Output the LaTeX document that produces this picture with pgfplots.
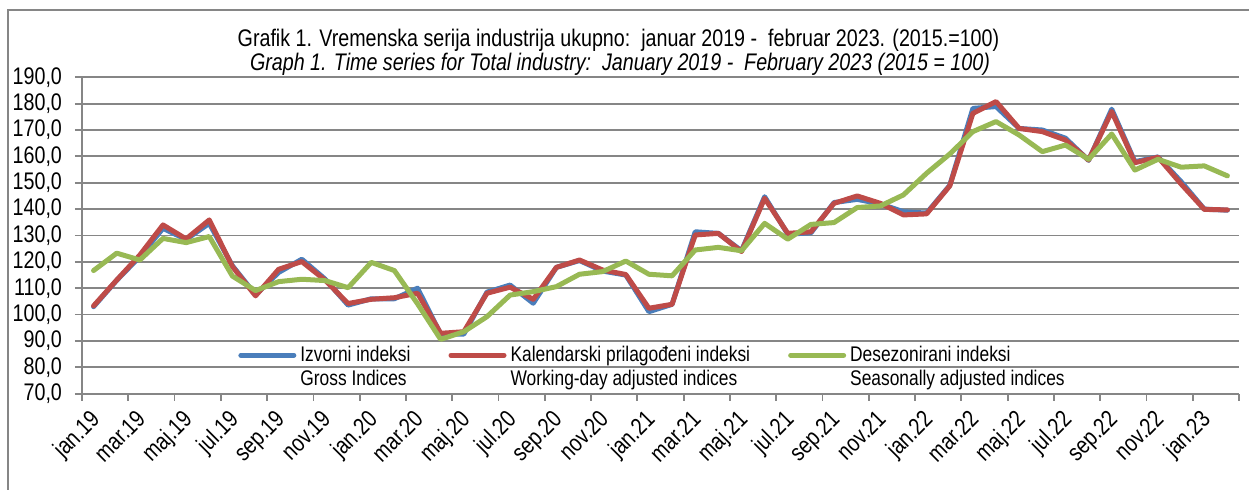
\documentclass[border=0pt]{standalone}
\usepackage{fontspec}
\setmainfont{Liberation Sans}[FakeStretch=0.82]
\usepackage{pgfplots}
\usepackage{pgfplotstable}
\pgfplotsset{compat=1.18}
\definecolor{sblue}{RGB}{74,126,187}
\definecolor{sred}{RGB}{190,75,72}
\definecolor{sgreen}{RGB}{152,185,84}
\definecolor{gridc}{RGB}{134,134,134}

\pgfplotstableread{
i gross wda sa
0 103.0 103.3 116.7
1 113.0 113.1 123.3
2 122.0 122.6 120.7
3 132.7 134.0 128.9
4 128.5 128.7 127.3
5 134.6 135.9 129.6
6 118.5 118.2 114.6
7 107.5 107.1 109.1
8 116.0 117.2 112.5
9 121.0 120.1 113.4
10 113.5 113.1 112.9
11 103.6 104.2 110.2
12 106.0 105.8 119.8
13 106.0 106.4 116.7
14 110.0 108.1 104.1
15 92.6 92.9 90.6
16 92.6 93.5 93.5
17 108.5 108.1 99.2
18 111.2 110.4 107.4
19 104.3 105.8 108.7
20 117.9 117.9 110.6
21 120.5 120.7 115.3
22 116.5 116.9 116.3
23 115.0 115.2 120.3
24 101.1 102.4 115.3
25 103.9 103.9 114.7
26 131.4 130.2 124.5
27 130.8 130.8 125.5
28 124.2 123.9 124.2
29 144.7 144.1 134.6
30 130.5 130.8 128.6
31 131.0 131.4 134.2
32 142.5 142.2 134.9
33 143.7 145.0 140.6
34 142.0 142.2 141.2
35 139.0 137.8 145.4
36 138.5 138.2 153.6
37 149.0 148.8 160.9
38 178.2 176.3 169.4
39 178.9 180.8 173.2
40 170.6 170.6 168.1
41 170.0 169.4 161.8
42 166.9 166.2 164.3
43 158.5 158.6 158.9
44 177.9 177.0 168.5
45 158.0 157.6 154.8
46 159.8 159.7 158.9
47 150.4 149.5 155.9
48 140.0 139.9 156.4
49 139.6 139.7 152.6
}\data

\begin{document}
\begin{tikzpicture}
\begin{axis}[
  at={(41pt,48.15pt)}, anchor=south west,
  scale only axis, width=578.5pt, height=158.2pt,
  xmin=-0.5, xmax=49.5, ymin=70, ymax=190,
  axis x line*=bottom, axis y line*=left,
  axis line style={gridc, line width=0.9pt, -},
  ytick={70,80,...,190},
  ymajorgrids, grid style={gridc, line width=0.9pt},
  tick align=outside,
  major tick length=3.5pt,
  tick style={gridc, line width=0.9pt},
  xtick={-0.5,1.5,...,49.5},
  xticklabels={},
  extra x ticks={0,2,...,48},
  extra x tick labels={jan.19,mar.19,maj.19,jul.19,sep.19,nov.19,jan.20,mar.20,maj.20,jul.20,sep.20,nov.20,jan.21,mar.21,maj.21,jul.21,sep.21,nov.21,jan.22,mar.22,maj.22,jul.22,sep.22,nov.22,jan.23},
  extra x tick style={major tick length=0pt, xticklabel style={xshift=-2.5pt, yshift=-2.5pt, rotate=45, anchor=north east}},
  ticklabel style={font=\fontsize{12}{14}\selectfont, black},
  yticklabel style={xshift=-3pt, /pgf/number format/fixed, /pgf/number format/fixed zerofill, /pgf/number format/precision=1, /pgf/number format/use comma, /pgf/number format/assume math mode=true},
  legend columns=3,
  legend style={at={(rel axis cs:0.1348,0.167)}, anchor=north west, draw=none, fill=none, inner sep=0pt,
    cells={anchor=base west, inner xsep=1.5pt}, font=\fontsize{10.6}{11.9}\selectfont,
    /tikz/every even column/.append style={column sep=17pt}},
  legend image code/.code={\draw[#1] (0pt,0.33em) -- (26.5pt,0.33em);},
]
\addplot[sblue, line width=2.5pt, line join=round, line cap=round] table[x=i,y=gross]{\data};
\addlegendentry{\begin{tabular}[t]{@{}l@{}}Izvorni indeksi\\Gross Indices\end{tabular}}
\addplot[sred, line width=2.5pt, line join=round, line cap=round] table[x=i,y=wda]{\data};
\addlegendentry{\begin{tabular}[t]{@{}l@{}}Kalendarski prilagođeni indeksi\\Working-day adjusted indices\end{tabular}}
\addplot[sgreen, line width=2.5pt, line join=round, line cap=round] table[x=i,y=sa]{\data};
\addlegendentry{\begin{tabular}[t]{@{}l@{}}Desezonirani indeksi\\Seasonally adjusted indices\end{tabular}}
\end{axis}
\node[anchor=base, font=\fontsize{12}{14}\selectfont] at (309.25pt,221.65pt) {Grafik 1. Vremenska serija industrija ukupno:\ \ januar 2019 -\ \ februar 2023. (2015.=100)};
\node[anchor=base, font=\fontsize{12}{14}\selectfont\itshape] at (310pt,209.5pt) {Graph 1. Time series for Total industry:\ \ January 2019 -\ \ February 2023 (2015 = 100)};
\draw[gridc, line width=0.9pt] (4pt,-5pt) |- (640pt,240pt);
\pgfresetboundingbox
\useasboundingbox (0,0) rectangle (624.5pt,245pt);
\end{tikzpicture}
\end{document}
